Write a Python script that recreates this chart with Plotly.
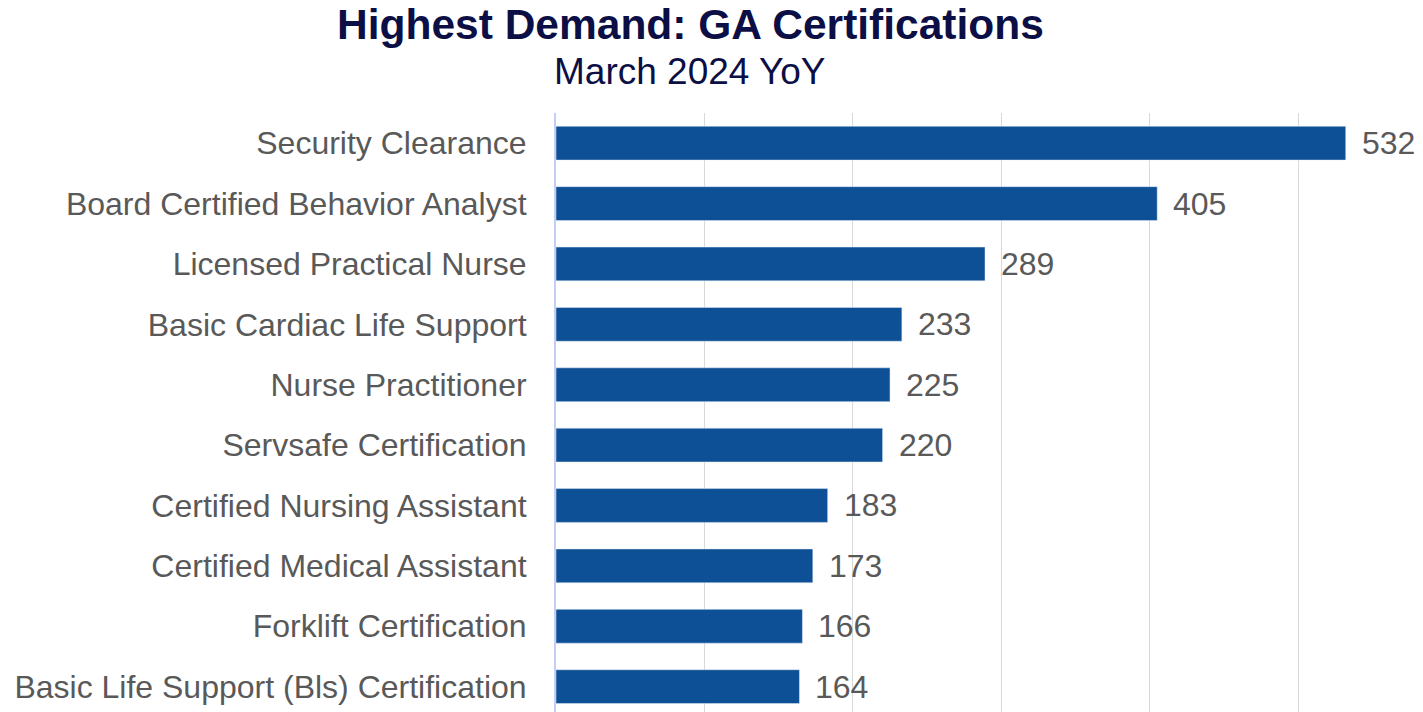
import plotly.graph_objects as go

categories = [
    "Security Clearance",
    "Board Certified Behavior Analyst",
    "Licensed Practical Nurse",
    "Basic Cardiac Life Support",
    "Nurse Practitioner",
    "Servsafe Certification",
    "Certified Nursing Assistant",
    "Certified Medical Assistant",
    "Forklift Certification",
    "Basic Life Support (Bls) Certification",
]
values = [532, 405, 289, 233, 225, 220, 183, 173, 166, 164]

title_text = "Highest Demand: GA Certifications"
subtitle_text = "March 2024 YoY"

FONT = "Liberation Sans, Arial, sans-serif"
OFF = 8  # default page body margin
W, H = 1423, 712
ML, MR, MT, MB = 556 - OFF, 14, 113 - OFF, OFF
plot_h = H - MT - MB
plot_w = W - ML - MR

def py(p):
    # screen pixel y -> paper y
    return (H - MB - (p - OFF)) / plot_h

def px(p):
    return (p - OFF - ML) / plot_w

fig = go.Figure(
    go.Bar(
        x=values,
        y=categories,
        orientation="h",
        marker=dict(color="#0D5096"),
        width=0.56,
        hoverinfo="x+y",
    )
)

annotations = [
    dict(
        x=v, y=c, xref="x", yref="y",
        text=str(v), xanchor="left", yanchor="middle",
        xshift=14, showarrow=False,
        font=dict(family=FONT, size=32, color="#595959"),
    )
    for c, v in zip(categories, values)
]

annotations += [
    dict(
        text="<b>" + title_text + "</b>",
        xref="paper", yref="paper",
        x=px(690), y=py(25),
        xanchor="center", yanchor="middle",
        showarrow=False,
        font=dict(family=FONT, size=42.5, color="#0C0F45"),
    ),
    dict(
        text=subtitle_text,
        xref="paper", yref="paper",
        x=px(690), y=py(71),
        xanchor="center", yanchor="middle",
        showarrow=False,
        font=dict(family=FONT, size=37, color="#0C0F45"),
    ),
]

fig.update_layout(
    width=W,
    height=H,
    margin=dict(l=ML, r=MR, t=MT, b=MB, autoexpand=False),
    paper_bgcolor="white",
    plot_bgcolor="white",
    showlegend=False,
    font=dict(family=FONT),
    xaxis=dict(
        range=[0, 580],
        dtick=100,
        showticklabels=False,
        showgrid=True,
        gridcolor="#D9D9D9",
        gridwidth=1,
        zeroline=False,
        showline=False,
        automargin=False,
    ),
    yaxis=dict(
        range=[9.42, -0.5],
        tickfont=dict(family=FONT, size=32, color="#595959"),
        ticklabelstandoff=21,
        showgrid=False,
        showline=True,
        linecolor="#C5CCF5",
        linewidth=2,
        ticks="",
        automargin=False,
    ),
    annotations=annotations,
)

fig.write_html("out.html")
